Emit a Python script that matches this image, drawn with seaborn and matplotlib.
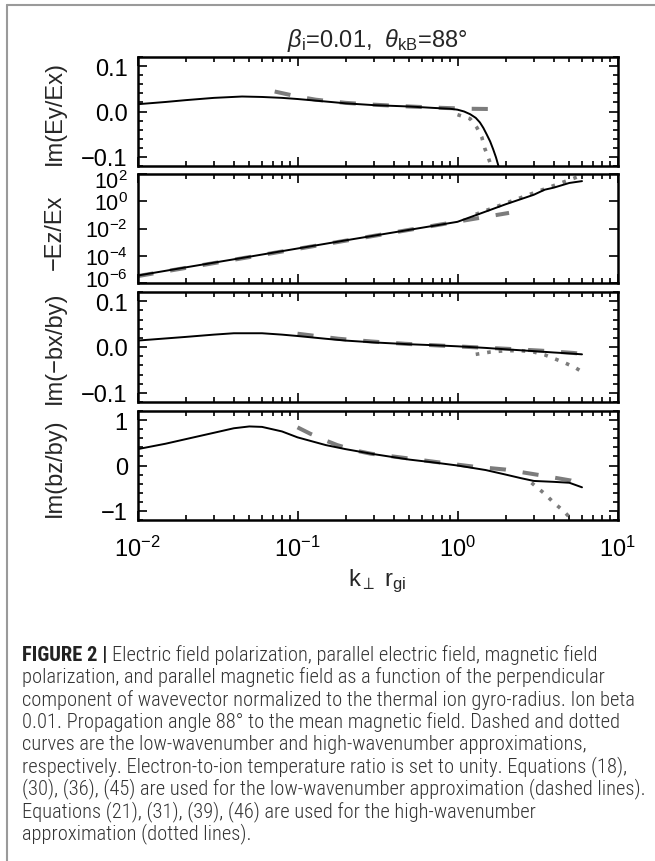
import matplotlib
matplotlib.use("Agg")
import matplotlib.pyplot as plt
import seaborn as sns
from matplotlib import font_manager
from matplotlib.lines import Line2D
from matplotlib.transforms import ScaledTranslation
from matplotlib.ticker import (FixedLocator, MultipleLocator, LogLocator,
                               NullFormatter, NullLocator, FuncFormatter,
                               LogFormatterMathtext)

# ---------------- data ----------------
# Panel 1: Im(Ey/Ex)
ey_solid_k = [0.01, 0.015, 0.02, 0.03, 0.045, 0.06, 0.08, 0.1, 0.15, 0.2, 0.3, 0.5,
              0.7, 0.9, 1.0, 1.1, 1.2, 1.3, 1.38, 1.45, 1.52, 1.6, 1.67, 1.74, 1.82]
ey_solid = [0.016, 0.021, 0.025, 0.030, 0.033, 0.032, 0.030, 0.0275, 0.022, 0.018, 0.014,
            0.011, 0.008, 0.006, 0.004, 0.000, -0.006, -0.014, -0.024, -0.036, -0.050,
            -0.066, -0.083, -0.101, -0.125]
ey_dash_k = [0.072, 0.1, 0.13, 0.2, 0.3, 0.5, 0.8, 1.2, 1.6]
ey_dash = [0.044, 0.033, 0.026, 0.019, 0.015, 0.011, 0.008, 0.006, 0.0055]
ey_dot_k = [1.0, 1.2, 1.32, 1.42, 1.48, 1.56, 1.63]
ey_dot = [-0.007, -0.016, -0.035, -0.057, -0.081, -0.102, -0.122]

# Panel 2: -Ez/Ex (log)
ez_solid_k = [0.01, 0.02, 0.05, 0.1, 0.2, 0.5, 0.8, 1.0, 1.4, 2.0, 3.0, 3.5, 4.0, 5.0, 6.0]
ez_solid = [3.5e-6, 1.4e-5, 8.5e-5, 3.4e-4, 1.35e-3, 8e-3, 2e-2, 3.1e-2, 0.13, 0.6,
            3.0, 7.0, 10.0, 22.0, 30.0]
ez_dash_k = [0.01, 0.1, 1.0, 2.1]
ez_dash = [3.2e-6, 3.2e-4, 3.2e-2, 0.14]
ez_dot_k = [1.3, 2.7, 5.8]
ez_dot = [0.11, 2.6, 70.0]

# Panel 3: Im(-bx/by)
bx_solid_k = [0.01, 0.02, 0.03, 0.04, 0.06, 0.08, 0.1, 0.15, 0.2, 0.3, 0.5, 0.7, 1.0,
              1.5, 2.0, 3.0, 4.0, 5.0, 6.0]
bx_solid = [0.014, 0.022, 0.027, 0.030, 0.030, 0.027, 0.024, 0.018, 0.014, 0.010,
            0.006, 0.004, 0.0015, -0.002, -0.005, -0.009, -0.012, -0.014, -0.016]
bx_dash_k = [0.1, 0.18, 0.29, 0.47, 0.79, 1.27, 2.06, 3.34, 5.3, 6.0]
bx_dash = [0.029, 0.018, 0.012, 0.007, 0.003, -0.0005, -0.004, -0.008, -0.013, -0.015]
bx_dot_k = [1.3, 1.6, 2.0, 2.5, 3.0, 3.5, 4.0, 4.5, 5.0, 5.5, 6.0]
bx_dot = [-0.016, -0.011, -0.008, -0.008, -0.011, -0.017, -0.025, -0.032, -0.039,
          -0.046, -0.054]

# Panel 4: Im(bz/by)
bz_solid_k = [0.01, 0.015, 0.02, 0.03, 0.04, 0.05, 0.06, 0.08, 0.1, 0.15, 0.2, 0.3, 0.5,
              0.7, 1.0, 1.5, 2.0, 2.5, 3.0, 4.0, 5.0, 6.0]
bz_solid = [0.36, 0.48, 0.58, 0.72, 0.82, 0.86, 0.85, 0.75, 0.62, 0.45, 0.36, 0.25,
            0.13, 0.07, 0.0, -0.10, -0.20, -0.28, -0.34, -0.36, -0.38, -0.48]
bz_dash_k = [0.1, 0.12, 0.15, 0.177, 0.23, 0.287, 0.47, 0.76, 1.23, 2.0, 3.24, 5.1, 5.8]
bz_dash = [0.84, 0.70, 0.55, 0.45, 0.33, 0.26, 0.165, 0.07, -0.02, -0.09, -0.21,
           -0.33, -0.40]
bz_dot_k = [2.9, 3.5, 4.0, 4.6, 5.2, 5.5]
bz_dot = [-0.38, -0.62, -0.82, -1.0, -1.2, -1.3]

ylabels = ["Im(Ey/Ex)", "\u2212Ez/Ex", "Im(\u2212bx/by)", "Im(bz/by)"]
xtick_vals = [0.01, 0.1, 1.0, 10.0]
title_text = r"$\beta_{\rm i}$=0.01,  $\theta_{\rm kB}$=88°"
xlabel_text = r"k$_{\perp}$ r$_{\rm gi}$"

caption_bold = "FIGURE 2 |"
caption_lines = [
    "Electric field polarization, parallel electric field, magnetic field",
    "polarization, and parallel magnetic field as a function of the perpendicular",
    "component of wavevector normalized to the thermal ion gyro-radius. Ion beta",
    "0.01. Propagation angle 88\u00b0 to the mean magnetic field. Dashed and dotted",
    "curves are the low-wavenumber and high-wavenumber approximations,",
    "respectively. Electron-to-ion temperature ratio is set to unity. Equations (18),",
    "(30), (36), (45) are used for the low-wavenumber approximation (dashed lines).",
    "Equations (21), (31), (39), (46) are used for the high-wavenumber",
    "approximation (dotted lines).",
]

# ---------------- style ----------------
sns.set_style("ticks")
names = {f.name for f in font_manager.fontManager.ttflist}
main_font = "Liberation Sans" if "Liberation Sans" in names else "DejaVu Sans"
cap_font = main_font
for cand in ["Liberation Sans Narrow", "Roboto Condensed", "Open Sans Condensed",
             "Roboto"]:
    if cand in names:
        cap_font = cand
        break
plt.rcParams["font.family"] = [main_font, "DejaVu Sans"]
plt.rcParams.update({
    "mathtext.fontset": "custom",
    "mathtext.rm": main_font,
    "mathtext.it": main_font + ":italic",
    "mathtext.bf": main_font + ":bold",
    "axes.unicode_minus": True,
})

W, H = 655, 862
fig = plt.figure(figsize=(W / 100, H / 100), dpi=100)


def fx(px):
    return px / W


def fy(py):
    return 1 - py / H


GRAY = "#7c7c7c"
FS = 17
LEFT, RIGHT = 137.5, 617.5
panels = [(58, 167), (175, 284), (293, 403), (412, 521)]
axes = []
for top, bot in panels:
    ax = fig.add_axes([fx(LEFT), fy(bot), fx(RIGHT) - fx(LEFT), (bot - top) / H])
    axes.append(ax)

series = [
    (ey_solid_k, ey_solid, ey_dash_k, ey_dash, ey_dot_k, ey_dot),
    (ez_solid_k, ez_solid, ez_dash_k, ez_dash, ez_dot_k, ez_dot),
    (bx_solid_k, bx_solid, bx_dash_k, bx_dash, bx_dot_k, bx_dot),
    (bz_solid_k, bz_solid, bz_dash_k, bz_dash, bz_dot_k, bz_dot),
]


def lin_fmt(decimals):
    def f(v, pos):
        s = f"{v:.{decimals}f}"
        if s.startswith("-") and float(s) == 0:
            s = s[1:]
        return s.replace("-", "\u2212")
    return FuncFormatter(f)


for i, (ax, (sk, sv, dk, dv, tk, tv)) in enumerate(zip(axes, series)):
    ax.set_xscale("log")
    if i == 1:
        ax.set_yscale("log")
    sns.lineplot(x=dk, y=dv, ax=ax, color=GRAY, linewidth=2.9,
                 linestyle=(0, (4.0, 4.2)), sort=False, estimator=None)
    sns.lineplot(x=tk, y=tv, ax=ax, color=GRAY, linewidth=2.6,
                 linestyle=(0, (1.0, 2.2)), sort=False, estimator=None)
    sns.lineplot(x=sk, y=sv, ax=ax, color="black", linewidth=1.4,
                 sort=False, estimator=None)
    ax.set_xlim(0.01, 10)
    if i in (0, 2):
        ax.set_ylim(-0.12, 0.12)
        ax.yaxis.set_major_locator(FixedLocator([-0.1, 0.0, 0.1]))
        ax.yaxis.set_minor_locator(MultipleLocator(0.02))
        ax.yaxis.set_major_formatter(lin_fmt(1))
    elif i == 3:
        ax.set_ylim(-1.2, 1.2)
        ax.yaxis.set_major_locator(FixedLocator([-1, 0, 1]))
        ax.yaxis.set_minor_locator(MultipleLocator(0.2))
        ax.yaxis.set_major_formatter(lin_fmt(0))
    else:
        ax.set_ylim(1e-6, 1e2)
        ax.yaxis.set_major_locator(FixedLocator([1e-6, 1e-4, 1e-2, 1e0, 1e2]))
        ax.yaxis.set_major_formatter(LogFormatterMathtext())
        ax.yaxis.set_minor_locator(NullLocator())
    ax.xaxis.set_major_locator(FixedLocator(xtick_vals))
    ax.xaxis.set_minor_locator(LogLocator(base=10, subs=range(2, 10)))
    ax.xaxis.set_minor_formatter(NullFormatter())
    if i < 3:
        ax.xaxis.set_major_formatter(NullFormatter())
    else:
        ax.xaxis.set_major_formatter(LogFormatterMathtext())
    ax.set_xlabel("")
    ax.set_ylabel("")
    for sp in ax.spines.values():
        sp.set_linewidth(1.8)
        sp.set_color("black")
    ax.tick_params(which="both", direction="in", top=True, right=True,
                   labelsize=FS, colors="black")
    ax.tick_params(which="major", length=6.5, width=1.2, pad=7)
    ax.tick_params(which="minor", length=3.6, width=1.2)
    ax.tick_params(axis="x", which="major", pad=11)
    ax.set_facecolor("white")

# log panel: slightly smaller labels, end labels nudged inside the frame
axes[1].tick_params(axis="y", which="major", labelsize=15.5)
fig.canvas.draw()
ticks2 = axes[1].yaxis.get_major_ticks()
shift = {0: 5.0 / 72 * 0.72, len(ticks2) - 1: -5.0 / 72 * 0.72}
for idx, dy in shift.items():
    lab = ticks2[idx].label1
    lab.set_transform(lab.get_transform() + ScaledTranslation(0, dy, fig.dpi_scale_trans))

# y labels
ylab_centers = [113, 232, 348, 468]
for lab, yc in zip(ylabels, ylab_centers):
    fig.text(fx(55), fy(yc), lab, rotation=90, ha="center", va="center", fontsize=FS)

# title and x label
fig.text(fx(377.5), fy(41), title_text, ha="center", va="center", fontsize=FS)
fig.text(fx(377.5), fy(581), xlabel_text, ha="center", va="center", fontsize=FS)

# outer frame (left and top rules)
fig.add_artist(Line2D([fx(7), fx(7)], [fy(6), 0], color="#9a9a9a", lw=1.5))
fig.add_artist(Line2D([fx(7), 1], [fy(6), fy(6)], color="#9a9a9a", lw=1.5))

# caption, font size fitted to the width of the longest line
r = fig.canvas.get_renderer()
probe = fig.text(0, 0, caption_lines[6], fontsize=11, family=cap_font, fontweight="light")
w = probe.get_window_extent(r).width
probe.remove()
cfs = 11 * 623.0 / w

x0 = 22
base0 = 661
step = 22.3
tb = fig.text(fx(x0), fy(base0), caption_bold, fontsize=cfs, family=cap_font,
              fontweight="bold", va="baseline", ha="left", color="#222222")
bw = tb.get_window_extent(r).x1
fig.text((bw + 4) / W, fy(base0), caption_lines[0], fontsize=cfs, family=cap_font,
         fontweight="light", va="baseline", ha="left", color="#333333")
for j, line in enumerate(caption_lines[1:], start=1):
    fig.text(fx(x0), fy(base0 + step * j), line, fontsize=cfs, family=cap_font,
             fontweight="light", va="baseline", ha="left", color="#333333")

fig.savefig("out.png", dpi=100, facecolor="white")
